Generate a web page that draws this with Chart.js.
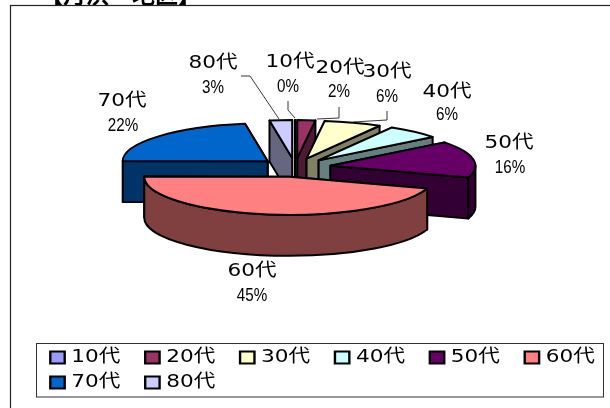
<!DOCTYPE html>
<html lang="ja">
<head>
<meta charset="utf-8">
<style>html,body{margin:0;padding:0;background:#fff}canvas{display:block}</style>
<script src="https://cdn.jsdelivr.net/npm/chart.js@4/dist/chart.umd.js"></script>
</head>
<body>
<canvas id="c" width="610" height="408"></canvas>
<script>
const titleText = "【月浜・地区】";
const categories = ["10代","20代","30代","40代","50代","60代","70代","80代"];
const shares = [0,2,6.4,6,15.6,45.1,22.4,2.5];
const topColors = ["#9999FF","#993366","#FFFFCC","#CCFFFF","#660066","#FF8080","#0066CC","#CCCCFF"];
const wallColors = ["#4D4D80","#4D1A33","#808066","#668080","#330033","#804040","#003366","#666680"];
const wallOrder = [7,0,1,2,3,4,6,5];
const nameSpots = [[290,62],[340,68],[387,72],[447,92],[509,143],[252,271],[122,101],[213,63]];
const pctSpots = [[288,87],[339,92],[387,97],[447,115],[510,168],[252,296],[123,126],[213,88]];
const leaders = [
  [[288,101],[288,110],[295,118]],
  [[339,107],[339,118],[317,119]],
  [[387,111],[387,120],[353,122]],
  null,null,null,null,
  [[241,76],[250,76],[279,119]]
];
const pieCx = 295, pieCy = 167.5, pieR = 145, flat = 0.262, wallH = 41, explode = 36;
const FONT = "'DejaVu Sans','Noto Sans CJK JP'";
const legendStretch = 1.2;

function geom(el){
  const p = el.getProps(['startAngle','endAngle']);
  const mid = (p.startAngle+p.endAngle)/2;
  const ax = pieCx+explode*Math.cos(mid), ay = pieCy+explode*Math.sin(mid)*flat;
  const pt = a=>[ax+pieR*Math.cos(a), ay+pieR*flat*Math.sin(a)];
  return {s:p.startAngle,e:p.endAngle,ax,ay,pt};
}
const pie3d = {
  id:'pie3d',
  afterDatasetsUpdate(chart){
    const a = chart.chartArea, x0=(a.left+a.right)/2, y0=(a.top+a.bottom)/2;
    chart.$c = [x0,y0];
    chart.getDatasetMeta(0).data.forEach(el=>{
      const mid=(el.startAngle+el.endAngle)/2;
      el.x = x0+explode*Math.cos(mid);
      el.y = y0+explode*Math.sin(mid);
    });
  },
  afterLayout(chart){
    const lg = chart.legend;
    if(lg && !lg._wrapped){
      lg._wrapped = true;
      const orig = lg.draw;
      lg.draw = function(a){
        const h = lg.legendHitBoxes[0], c = chart.ctx;
        c.save();
        c.translate(54.5,348.5);
        c.scale(legendStretch,1);
        c.translate(-h.left,-h.top);
        orig.call(lg,a);
        c.restore();
      };
    }
  },
  beforeDraw(chart){
    const c = chart.ctx;
    c.save();
    c.fillStyle='#fff'; c.fillRect(0,0,610,408);
    c.font="bold 23px 'Noto Sans CJK JP'"; c.fillStyle='#000'; c.textBaseline='alphabetic'; c.textAlign='left';
    c.fillText(titleText,40,3);
    c.strokeStyle='#222'; c.lineWidth=1.2;
    c.strokeRect(10.5,5.5,640,430);
    c.lineWidth=1;
    c.strokeStyle='#333';
    c.strokeRect(36.5,343.5,567,53.5);
    c.restore();
  },
  beforeDatasetDraw(chart,args){
    const c = chart.ctx, els = args.meta.data;
    c.save();
    c.lineWidth=2; c.strokeStyle='#000'; c.lineJoin='round';
    wallOrder.forEach(i=>{
      const g = geom(els[i]);
      [g.s,g.e].sort((a,b)=>g.pt(a)[1]-g.pt(b)[1]).forEach(a=>{
        const q = g.pt(a);
        c.beginPath();
        c.moveTo(g.ax,g.ay); c.lineTo(q[0],q[1]); c.lineTo(q[0],q[1]+wallH); c.lineTo(g.ax,g.ay+wallH); c.closePath();
        c.fillStyle=wallColors[i]; c.fill(); c.stroke();
      });
      const lo=Math.max(g.s,0), hi=Math.min(g.e,Math.PI);
      if(lo<hi){
        c.beginPath();
        c.ellipse(g.ax,g.ay,pieR,pieR*flat,0,lo,hi,false);
        c.ellipse(g.ax,g.ay+wallH,pieR,pieR*flat,0,hi,lo,true);
        c.closePath();
        c.fillStyle=wallColors[i]; c.fill(); c.stroke();
      }
    });
    c.restore();
    c.save();
    c.translate(pieCx,pieCy); c.scale(1,flat); c.translate(-chart.$c[0],-chart.$c[1]);
  },
  afterDatasetDraw(chart,args){
    const c = chart.ctx, els = args.meta.data;
    c.restore();
    c.save();
    c.lineWidth=2; c.strokeStyle='#000'; c.lineJoin='round';
    els.forEach(el=>{
      const g = geom(el);
      c.beginPath();
      c.moveTo(g.ax,g.ay);
      c.ellipse(g.ax,g.ay,pieR,pieR*flat,0,g.s,g.e,false);
      c.closePath();
      c.stroke();
    });
    c.restore();
  },
  afterDraw(chart){
    const c = chart.ctx;
    c.save();
    c.strokeStyle='#222'; c.lineWidth=0.9;
    leaders.forEach(l=>{
      if(!l) return;
      c.beginPath();
      l.forEach((p,j)=>j?c.lineTo(p[0],p[1]):c.moveTo(p[0],p[1]));
      c.stroke();
    });
    c.fillStyle='#000'; c.textAlign='center'; c.textBaseline='middle';
    categories.forEach((t,i)=>{
      c.save();
      c.translate(nameSpots[i][0],nameSpots[i][1]); c.scale(1.2,1);
      c.font="18px "+FONT;
      c.fillText(t,0,0);
      c.restore();
      c.save();
      c.translate(pctSpots[i][0],pctSpots[i][1]); c.scale(0.8,1);
      c.font="19px 'Liberation Sans'";
      c.fillText(Math.round(shares[i])+"%",0,0);
      c.restore();
    });
    c.restore();
  }
};
new Chart(document.getElementById('c'),{
  type:'pie',
  data:{labels:categories,datasets:[{
    data:shares,
    backgroundColor:topColors,
    borderWidth:0,
    hoverOffset:0,
    clip:false
  }]},
  plugins:[pie3d],
  options:{
    responsive:false,animation:false,
    radius:pieR,
    rotation:0,
    layout:{padding:{left:40,right:40,top:0,bottom:10}},
    plugins:{
      tooltip:{enabled:false},
      title:{display:false},
      legend:{
        display:true,position:'bottom',align:'start',
        labels:{
          usePointStyle:true,pointStyle:'rect',
          boxWidth:5,boxHeight:12,padding:7,color:'#000',
          font:{size:18,family:FONT},
          generateLabels(chart){
            return Chart.overrides.pie.plugins.legend.labels.generateLabels(chart).map(o=>
              Object.assign(o,{text:o.text+"   ",lineWidth:2,strokeStyle:'#000',pointStyle:'rect'}));
          }
        }
      }
    }
  }
});
</script>
</body>
</html>
